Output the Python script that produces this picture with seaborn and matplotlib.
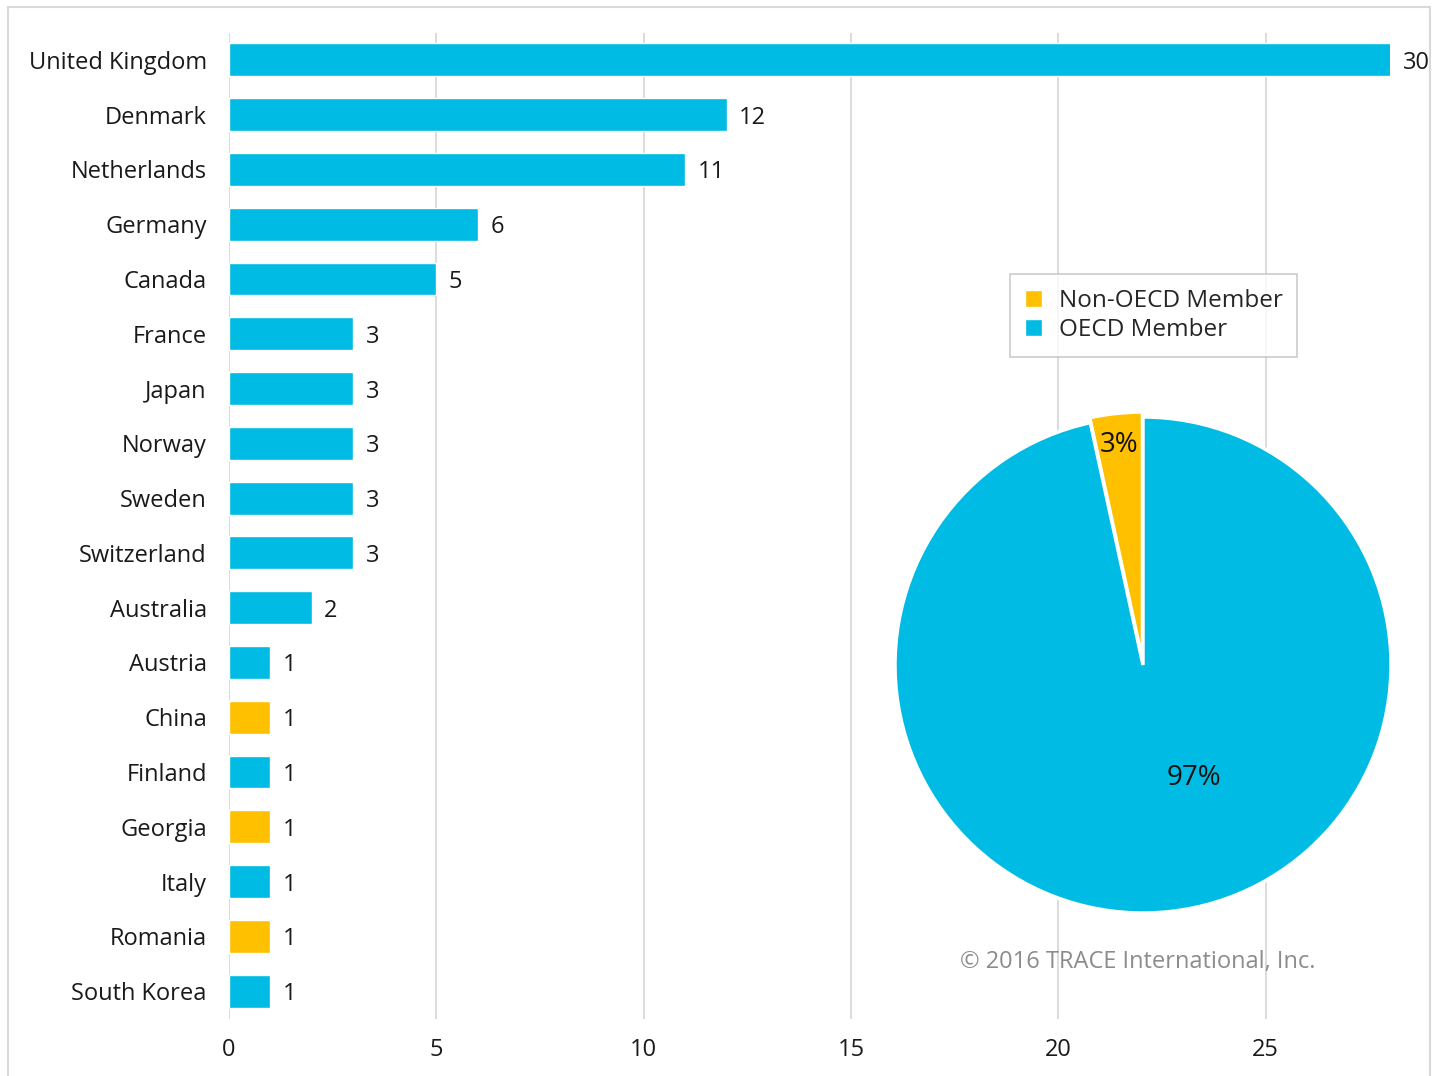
import matplotlib
matplotlib.use("Agg")
import matplotlib.pyplot as plt
from matplotlib.patches import Rectangle, Patch
import seaborn as sns
import pandas as pd

countries = ["United Kingdom", "Denmark", "Netherlands", "Germany", "Canada", "France",
             "Japan", "Norway", "Sweden", "Switzerland", "Australia", "Austria", "China",
             "Finland", "Georgia", "Italy", "Romania", "South Korea"]
counts = [30, 12, 11, 6, 5, 3, 3, 3, 3, 3, 2, 1, 1, 1, 1, 1, 1, 1]
membership = ["OECD", "OECD", "OECD", "OECD", "OECD", "OECD", "OECD", "OECD", "OECD",
              "OECD", "OECD", "OECD", "Non-OECD", "OECD", "Non-OECD", "OECD", "Non-OECD", "OECD"]

pie_labels = ["Non-OECD Member", "OECD Member"]
pie_values = [3, 85]
pie_pct = ["3%", "97%"]

x_ticks = [0, 5, 10, 15, 20, 25]
x_max = 28

BLUE = "#00BBE3"
YELLOW = "#FFC000"
palette = {"OECD": BLUE, "Non-OECD": YELLOW}

sns.set_theme(style="white")
plt.rcParams["font.family"] = ["Open Sans", "DejaVu Sans"]

df = pd.DataFrame({"country": countries, "count": counts, "member": membership})

fig = plt.figure(figsize=(14.38, 10.76), dpi=100)
ax = fig.add_axes([229 / 1438, 1 - 1018.5 / 1076, (1390 - 229) / 1438, (1018.5 - 32.5) / 1076])

sns.barplot(data=df, y="country", x="count", hue="member", palette=palette,
            dodge=False, width=0.6, legend=False, ax=ax, saturation=1)

ax.set_xlim(0, x_max)
ax.set_xticks(x_ticks)
ax.set_xlabel("")
ax.set_ylabel("")
ax.grid(axis="x", color="#D9D9D9", linewidth=1.3)
ax.set_axisbelow(True)
for s in ax.spines.values():
    s.set_visible(False)
ax.tick_params(axis="y", length=0, pad=16, labelsize=17, labelcolor="#1a1a1a")
ax.tick_params(axis="x", length=0, pad=14, labelsize=17, labelcolor="#1a1a1a")

# value labels sit just past the visible end of each bar
for i, v in enumerate(counts):
    ax.text(min(v, x_max) + 0.3, i, str(v), va="center_baseline", ha="left", fontsize=17,
            color="#1a1a1a", clip_on=False)

# pie of membership share
cx, cy, r = 1143, 665, 248
pax = fig.add_axes([(cx - r) / 1438, 1 - (cy + r) / 1076, 2 * r / 1438, 2 * r / 1076])
wedges, _ = pax.pie(pie_values, colors=[YELLOW, BLUE], startangle=90, counterclock=True,
                    explode=[0.02, 0], wedgeprops=dict(edgecolor="white", linewidth=2.5))
pax.set_aspect("equal")
pax.set_xlim(-1, 1)
pax.set_ylim(-1, 1)
pax.text(-0.095, 0.90, pie_pct[0], ha="center", va="center_baseline", fontsize=20, color="#111111")
pax.text(0.205, -0.44, pie_pct[1], ha="center", va="center_baseline", fontsize=20, color="#111111")

handles = [Patch(facecolor=YELLOW, label=pie_labels[0]),
           Patch(facecolor=BLUE, label=pie_labels[1])]
leg = fig.legend(handles=handles, loc="upper left",
                 bbox_to_anchor=(1010 / 1438, 1 - 274 / 1076), frameon=True, fancybox=False,
                 fontsize=17.5, handlelength=0.7, handleheight=0.7, handletextpad=0.7,
                 labelspacing=0.22, borderpad=0.6, borderaxespad=0)
leg.get_frame().set_edgecolor("#BFBFBF")
leg.get_frame().set_linewidth(1.2)

fig.text(1138 / 1438, 1 - 962 / 1076, "© 2016 TRACE International, Inc.", ha="center",
         va="center", fontsize=17, color="#8C8C8C")

# thin frame around the whole figure
fig.patches.append(Rectangle((8 / 1438, -0.05), (1430 - 8) / 1438, 1.05 - 7 / 1076,
                             transform=fig.transFigure, fill=False, edgecolor="#D9D9D9",
                             linewidth=1.5))

fig.savefig("out.png", dpi=100, facecolor="white")
